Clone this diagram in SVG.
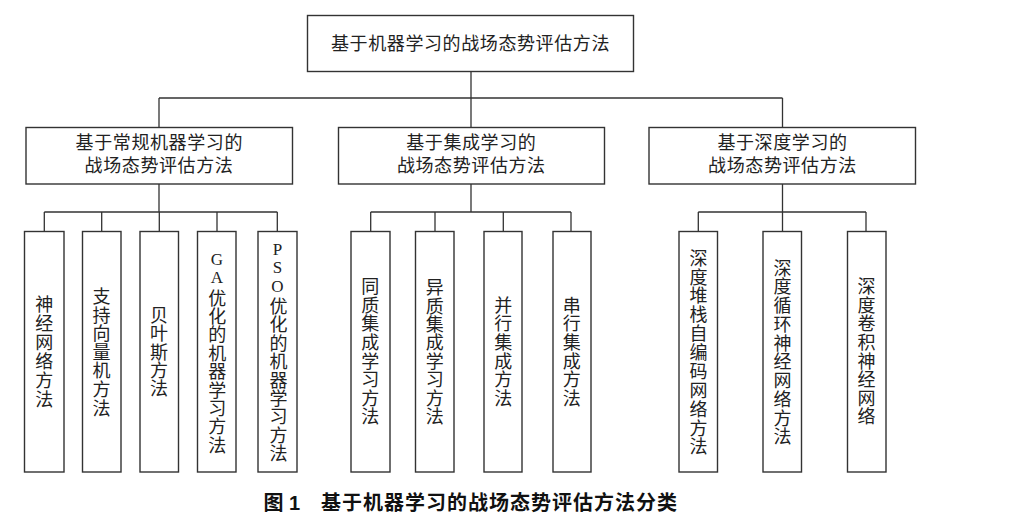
<svg xmlns="http://www.w3.org/2000/svg" width="1022" height="531" viewBox="0 0 1022 531">
<style>
.box{fill:#fff;stroke:#333;stroke-width:1.4}
.ln{fill:none;stroke:#333;stroke-width:1.3}
.t{font-family:"Noto Sans CJK SC","Liberation Serif",serif;font-size:18px;fill:#222}
.tc{text-anchor:middle;letter-spacing:0.6px}
.v{text-anchor:middle}
.lat{font-family:"Liberation Serif","Noto Sans CJK SC",serif;font-size:17px}
.cap{font-family:"Noto Sans CJK SC","Liberation Sans",sans-serif;font-size:20px;font-weight:bold;fill:#111}
</style>
<rect width="1022" height="531" fill="#fff"/>
<g id="connectors">
<path class="ln" d="M471,71.5V98M159,98H782.5M159,98V127.5M471,98V127.5M782.5,98V127.5"/>
<path class="ln" d="M159,184V212M44.3,212H277.3M44.3,212V231.5M101.7,212V231.5M159.3,212V231.5M217,212V231.5M277.3,212V231.5"/>
<path class="ln" d="M471,184V212M370.7,212H571M370.7,212V231.5M435,212V231.5M503.3,212V231.5M571,212V231.5"/>
<path class="ln" d="M782.5,184V212M698.3,212H866M698.3,212V231.5M782.5,212V231.5M866,212V231.5"/>
</g>
<g id="root">
<rect class="box" x="307.5" y="15.5" width="326" height="56"/>
<text class="t tc" x="470.5" y="50">基于机器学习的战场态势评估方法</text>
</g>
<g id="cat-conventional">
<rect class="box" x="26" y="127.5" width="266.5" height="56.5"/>
<text class="t tc" x="159.3" y="148.5">基于常规机器学习的</text>
<text class="t tc" x="159" y="172">战场态势评估方法</text>
</g>
<g id="cat-ensemble">
<rect class="box" x="338.5" y="127.5" width="266" height="56.5"/>
<text class="t tc" x="471.3" y="148.5">基于集成学习的</text>
<text class="t tc" x="471.3" y="172">战场态势评估方法</text>
</g>
<g id="cat-deep">
<rect class="box" x="649" y="127.5" width="266.5" height="56.5"/>
<text class="t tc" x="782.5" y="148.5">基于深度学习的</text>
<text class="t tc" x="782.5" y="172">战场态势评估方法</text>
</g>
<g id="leaf-nn">
<rect class="box" x="24.5" y="231.5" width="39.5" height="240.5"/>
<text class="t v"><tspan x="44.2" y="311.1">神</tspan><tspan x="44.2" y="330.2">经</tspan><tspan x="44.2" y="349.2">网</tspan><tspan x="44.2" y="368.3">络</tspan><tspan x="44.2" y="387.3">方</tspan><tspan x="44.2" y="406.4">法</tspan></text>
</g>
<g id="leaf-svm">
<rect class="box" x="82.5" y="231.5" width="38.5" height="240.5"/>
<text class="t v"><tspan x="101.5" y="302.9">支</tspan><tspan x="101.5" y="321.5">持</tspan><tspan x="101.5" y="340.1">向</tspan><tspan x="101.5" y="358.8">量</tspan><tspan x="101.5" y="377.4">机</tspan><tspan x="101.5" y="396">方</tspan><tspan x="101.5" y="414.7">法</tspan></text>
</g>
<g id="leaf-bayes">
<rect class="box" x="140" y="231.5" width="38.5" height="240.5"/>
<text class="t v"><tspan x="159" y="322.2">贝</tspan><tspan x="159" y="340.4">叶</tspan><tspan x="159" y="358.6">斯</tspan><tspan x="159" y="376.8">方</tspan><tspan x="159" y="395">法</tspan></text>
</g>
<g id="leaf-ga">
<rect class="box" x="197.5" y="231.5" width="38.5" height="240.5"/>
<text class="t v"><tspan class="lat" x="217" y="264.6">G</tspan><tspan class="lat" x="217" y="282.6">A</tspan><tspan x="217.3" y="304.6">优</tspan><tspan x="217.3" y="323">化</tspan><tspan x="217.3" y="341.4">的</tspan><tspan x="217.3" y="359.7">机</tspan><tspan x="217.3" y="378.1">器</tspan><tspan x="217.3" y="396.5">学</tspan><tspan x="217.3" y="414.9">习</tspan><tspan x="217.3" y="433.2">方</tspan><tspan x="217.3" y="451.6">法</tspan></text>
</g>
<g id="leaf-pso">
<rect class="box" x="258" y="231.5" width="39" height="240.5"/>
<text class="t v"><tspan class="lat" x="277.5" y="254.6">P</tspan><tspan class="lat" x="277.5" y="272.6">S</tspan><tspan class="lat" x="277.5" y="291.9">O</tspan><tspan x="278.5" y="312.9">优</tspan><tspan x="278.5" y="331.3">化</tspan><tspan x="278.5" y="349.7">的</tspan><tspan x="278.5" y="368.1">机</tspan><tspan x="278.5" y="386.5">器</tspan><tspan x="278.5" y="404.8">学</tspan><tspan x="278.5" y="423.2">习</tspan><tspan x="278.5" y="441.6">方</tspan><tspan x="278.5" y="460">法</tspan></text>
</g>
<g id="leaf-homo">
<rect class="box" x="351" y="231.5" width="39" height="240.5"/>
<text class="t v"><tspan x="370.3" y="293.2">同</tspan><tspan x="370.3" y="311.8">质</tspan><tspan x="370.3" y="330.4">集</tspan><tspan x="370.3" y="349">成</tspan><tspan x="370.3" y="367.6">学</tspan><tspan x="370.3" y="386.2">习</tspan><tspan x="370.3" y="404.8">方</tspan><tspan x="370.3" y="423.4">法</tspan></text>
</g>
<g id="leaf-hetero">
<rect class="box" x="415.5" y="231.5" width="38.5" height="240.5"/>
<text class="t v"><tspan x="434.8" y="294">异</tspan><tspan x="434.8" y="312.5">质</tspan><tspan x="434.8" y="330.9">集</tspan><tspan x="434.8" y="349.3">成</tspan><tspan x="434.8" y="367.7">学</tspan><tspan x="434.8" y="386.1">习</tspan><tspan x="434.8" y="404.6">方</tspan><tspan x="434.8" y="423.4">法</tspan></text>
</g>
<g id="leaf-parallel">
<rect class="box" x="484" y="231.5" width="38" height="240.5"/>
<text class="t v"><tspan x="503.2" y="311.6">并</tspan><tspan x="503.2" y="330.3">行</tspan><tspan x="503.2" y="349">集</tspan><tspan x="503.2" y="367.6">成</tspan><tspan x="503.2" y="386.3">方</tspan><tspan x="503.2" y="405">法</tspan></text>
</g>
<g id="leaf-serial">
<rect class="box" x="553" y="231.5" width="38" height="240.5"/>
<text class="t v"><tspan x="571.7" y="311.6">串</tspan><tspan x="571.7" y="330.3">行</tspan><tspan x="571.7" y="349">集</tspan><tspan x="571.7" y="367.6">成</tspan><tspan x="571.7" y="386.3">方</tspan><tspan x="571.7" y="405">法</tspan></text>
</g>
<g id="leaf-sae">
<rect class="box" x="679" y="231.5" width="38.5" height="240.5"/>
<text class="t v"><tspan x="698.5" y="264.6">深</tspan><tspan x="698.5" y="283.5">度</tspan><tspan x="698.5" y="302.4">堆</tspan><tspan x="698.5" y="321.2">栈</tspan><tspan x="698.5" y="340.1">自</tspan><tspan x="698.5" y="359">编</tspan><tspan x="698.5" y="377.9">码</tspan><tspan x="698.5" y="396.8">网</tspan><tspan x="698.5" y="415.6">络</tspan><tspan x="698.5" y="434.5">方</tspan><tspan x="698.5" y="453.4">法</tspan></text>
</g>
<g id="leaf-rnn">
<rect class="box" x="763" y="231.5" width="38.5" height="240.5"/>
<text class="t v"><tspan x="782.5" y="274.6">深</tspan><tspan x="782.5" y="293.4">度</tspan><tspan x="782.5" y="312.1">循</tspan><tspan x="782.5" y="330.9">环</tspan><tspan x="782.5" y="349.6">神</tspan><tspan x="782.5" y="368.4">经</tspan><tspan x="782.5" y="387.1">网</tspan><tspan x="782.5" y="405.9">络</tspan><tspan x="782.5" y="424.6">方</tspan><tspan x="782.5" y="443.4">法</tspan></text>
</g>
<g id="leaf-cnn">
<rect class="box" x="847.5" y="231.5" width="38.5" height="240.5"/>
<text class="t v"><tspan x="866.6" y="292.9">深</tspan><tspan x="866.6" y="311.5">度</tspan><tspan x="866.6" y="330.2">卷</tspan><tspan x="866.6" y="348.8">积</tspan><tspan x="866.6" y="367.5">神</tspan><tspan x="866.6" y="386.1">经</tspan><tspan x="866.6" y="404.8">网</tspan><tspan x="866.6" y="423.4">络</tspan></text>
</g>
<g id="caption">
<text class="cap" x="263.5" y="510">图</text>
<text class="cap" x="289" y="510" style="font-family:'Liberation Sans',sans-serif">1</text>
<text class="cap" x="321" y="510" style="letter-spacing:1px">基于机器学习的战场态势评估方法分类</text>
</g>
</svg>
